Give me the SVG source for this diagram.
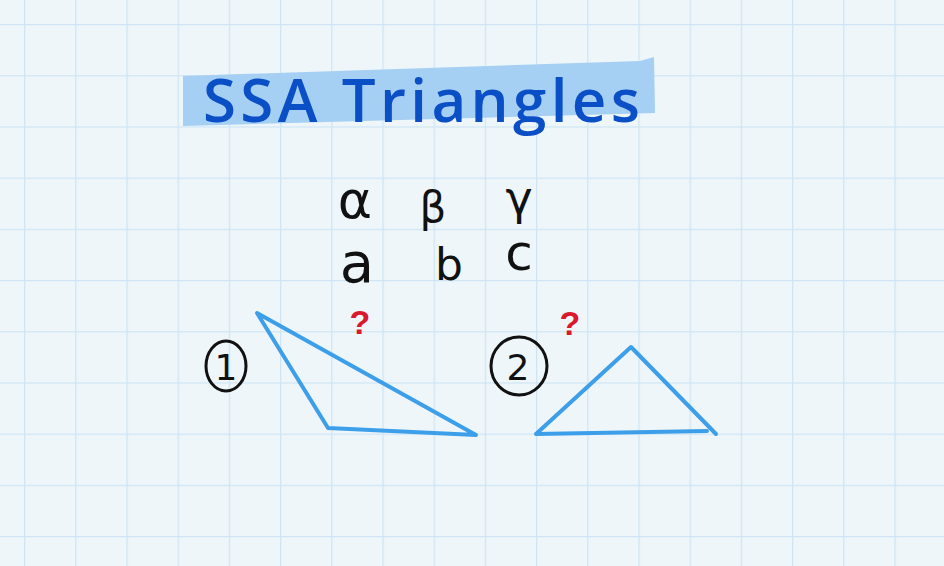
<svg xmlns="http://www.w3.org/2000/svg" width="944" height="566" viewBox="0 0 944 566">
  <defs>
    <pattern id="grid" x="24" y="24" width="51.2" height="51.2" patternUnits="userSpaceOnUse">
      <path d="M0 0 H51.2 M0 0 V51.2" stroke="#cfe5f5" stroke-width="2.6" fill="none"/>
    </pattern>
  </defs>
  <style>
    .tri { fill: none; stroke: #3d9fe9; stroke-width: 4; stroke-linejoin: round; stroke-linecap: round; }
    .ink { font-family: "DejaVu Sans", "Liberation Sans", sans-serif; fill: #111; }
    .circ { fill: none; stroke: #111; stroke-width: 3; }
    .q { font-family: "Liberation Sans", sans-serif; fill: #d8192e; font-size: 34px; font-weight: bold; }
  </style>
  <rect width="944" height="566" fill="#eef6fa"/>
  <rect width="944" height="566" fill="url(#grid)"/>

  <g id="title">
    <polygon points="183,76 640,61 654,57 655,113 183,126" fill="#a5cff3"/>
    <text x="203" y="122" font-family="Open Sans, Liberation Sans, sans-serif" font-weight="600" font-size="60" fill="#0b4fc6" textLength="437" lengthAdjust="spacing">SSA Triangles</text>
  </g>

  <g id="angles" class="ink">
    <text x="355" y="218" font-size="52" text-anchor="middle">α</text>
    <text x="433" y="222" font-size="42" text-anchor="middle">β</text>
    <text x="519" y="214" font-size="46" text-anchor="middle">γ</text>
  </g>
  <g id="sides" class="ink">
    <text x="357" y="282" font-size="56" text-anchor="middle">a</text>
    <text x="449" y="280" font-size="44" text-anchor="middle">b</text>
    <text x="519" y="270" font-size="50" text-anchor="middle">c</text>
  </g>

  <g id="q1"><text class="q" x="360" y="334" text-anchor="middle">?</text></g>
  <g id="q2"><text class="q" x="570" y="335" text-anchor="middle">?</text></g>

  <g id="label1">
    <ellipse class="circ" cx="226" cy="366" rx="20" ry="25"/>
    <text class="ink" x="226" y="380" font-size="36" text-anchor="middle">1</text>
  </g>
  <g id="label2">
    <ellipse class="circ" cx="519" cy="366" rx="28" ry="29"/>
    <text class="ink" x="518" y="380" font-size="36" text-anchor="middle">2</text>
  </g>

  <g id="triangle1">
    <path class="tri" d="M257,313 L328,428 L476,435 Z"/>
  </g>
  <g id="triangle2">
    <path class="tri" d="M536,434 L631,347 L716,434 M536,434 L707,431"/>
  </g>
</svg>
